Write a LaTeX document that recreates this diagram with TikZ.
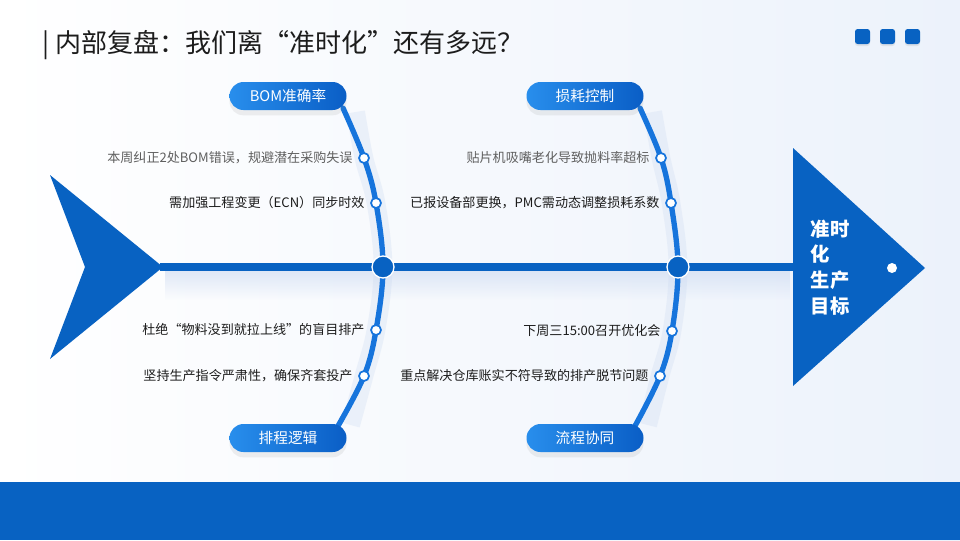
\documentclass[tikz,border=0pt]{standalone}
\usepackage{fontspec}
\setmainfont{Noto Sans CJK SC}
\usetikzlibrary{positioning, shadows, calc, fadings}
\definecolor{mainblue}{RGB}{8, 98, 194}
\definecolor{boneblue}{RGB}{22, 116, 220}
\definecolor{pilllight}{RGB}{40, 142, 236}
\definecolor{pilldark}{RGB}{10, 94, 198}
\definecolor{textgray}{RGB}{95, 95, 95}
\definecolor{textdark}{RGB}{28, 28, 28}
\definecolor{bgblue}{RGB}{236, 242, 251}
\definecolor{glowblue}{RGB}{200, 215, 240}

\tikzfading[name=glowfade, top color=transparent!45, bottom color=transparent!100]

\tikzset{
  pill/.style={rounded corners=10.5pt, minimum width=87.75pt, minimum height=21pt,
    left color=pilllight, right color=pilldark, text=white,
    font=\fontsize{11}{13}\selectfont,
    drop shadow={opacity=0.12, shadow xshift=0pt, shadow yshift=-4pt}},
  smalldot/.style={circle, draw=boneblue, fill=white, line width=1.3pt,
    inner sep=0pt, minimum size=7.5pt},
  joint/.style={circle, draw=white, fill=mainblue, line width=1pt,
    inner sep=0pt, minimum size=16.5pt},
  cause/.style={font=\fontsize{9.8}{12}\selectfont, text=textdark, inner sep=1pt},
  bone/.style={boneblue, line width=4pt, line cap=round},
  boneglow/.style={glowblue, line width=14pt, opacity=0.28}
}

\begin{document}
\begin{tikzpicture}[x=0.75pt, y=-0.75pt]
  \useasboundingbox (0,0) rectangle (960,540);

  % 背景
  \shade[left color=white, right color=bgblue] (0,0) rectangle (960,540);
  \fill[mainblue] (0,482) rectangle (960,540);

  % 标题与右上角方块
  \node[anchor=west, font=\fontsize{19.5}{23}\selectfont, text=textdark] (title)
    at (38,45) {| 内部复盘：我们离“准时化”还有多远？};
  \foreach \x in {862.5, 887.5, 912.5}
    \fill[mainblue, rounded corners=2pt, drop shadow={opacity=0.15, shadow xshift=0pt, shadow yshift=-1.5pt}]
      (\x-7.5,29) rectangle (\x+7.5,44);

  % 鱼尾、鱼骨、鱼头
  \fill[glowblue, path fading=glowfade] (165,271) rectangle (790,300);
  \fill[mainblue] (50,175) -- (163,267) -- (50,359) -- (85,267) -- cycle;
  \draw[mainblue, line width=6pt] (160,267) -- (796,267);
  \fill[mainblue] (793,148) -- (925,268) -- (793,386) -- cycle;
  \fill[white] (892,268) circle (5);
  \node[anchor=north west, align=left, text=white, font=\fontsize{14.5}{19.3}\bfseries\selectfont]
    (goal) at (806,215) {准时\\化\\生产\\目标};

  % 左侧鱼骨
  \coordinate (a1) at (364,158);
  \coordinate (a2) at (376,203);
  \coordinate (a0) at (383,267);
  \coordinate (a3) at (376,330);
  \coordinate (a4) at (364,376);
  \draw[boneglow, xshift=8] plot[smooth, tension=0.6] coordinates
    {(345,112) (a1) (a2) (a0) (a3) (a4) (340,425)};
  \draw[bone] plot[smooth, tension=0.6] coordinates
    {(343,108) (a1) (a2) (a0) (a3) (a4) (338,426)};

  % 右侧鱼骨
  \coordinate (b1) at (661,158);
  \coordinate (b2) at (671,203);
  \coordinate (b0) at (678,267);
  \coordinate (b3) at (672,331);
  \coordinate (b4) at (660,376);
  \draw[boneglow, xshift=8] plot[smooth, tension=0.6] coordinates
    {(642,112) (b1) (b2) (b0) (b3) (b4) (637,425)};
  \draw[bone] plot[smooth, tension=0.6] coordinates
    {(640,108) (b1) (b2) (b0) (b3) (b4) (635,426)};

  % 分类标签
  \node[pill] (bom)  at (288,96)  {BOM准确率};
  \node[pill] (plan) at (288,438) {排程逻辑};
  \node[pill] (loss) at (585,96)  {损耗控制};
  \node[pill] (flow) at (585,438) {流程协同};

  % 节点
  \node[joint] (ja) at (a0) {};
  \node[joint] (jb) at (b0) {};
  \foreach \p in {a1, a2, a3, a4, b1, b2, b3, b4}
    \node[smalldot] (dot\p) at (\p) {};

  % 原因
  \node[cause, text=textgray, left=3pt of dota1] (ca1) {本周纠正2处BOM错误，规避潜在采购失误};
  \node[cause, left=3pt of dota2] (ca2) {需加强工程变更（ECN）同步时效};
  \node[cause, left=3pt of dota3] (ca3) {杜绝“物料没到就拉上线”的盲目排产};
  \node[cause, left=3pt of dota4] (ca4) {坚持生产指令严肃性，确保齐套投产};
  \node[cause, text=textgray, left=3pt of dotb1] (cb1) {贴片机吸嘴老化导致抛料率超标};
  \node[cause, left=3pt of dotb2] (cb2) {已报设备部更换，PMC需动态调整损耗系数};
  \node[cause, left=3pt of dotb3] (cb3) {下周三15:00召开优化会};
  \node[cause, left=3pt of dotb4] (cb4) {重点解决仓库账实不符导致的排产脱节问题};
\end{tikzpicture}
\end{document}
